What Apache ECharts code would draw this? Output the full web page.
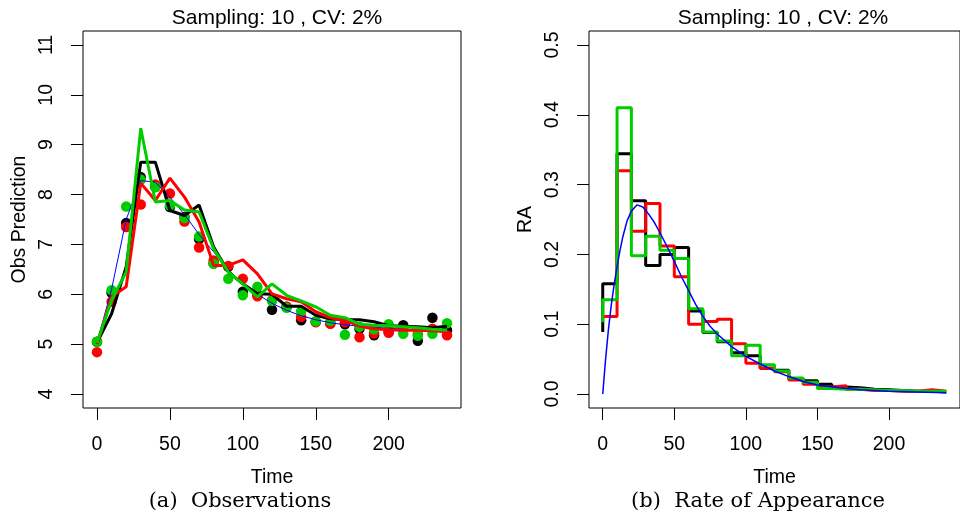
<!DOCTYPE html>
<html>
<head>
<meta charset="utf-8">
<script src="https://cdn.jsdelivr.net/npm/echarts@6/dist/echarts.min.js"></script>
<style>
	html, body { margin: 0; padding: 0; background: #fff; }
	#chart { width: 960px; height: 532px; }
</style>
</head>
<body>
<div id="chart"></div>
<script>
	// sampling times (both panels)
	let times = [0, 10, 20, 30, 40, 50, 60, 70, 80, 90, 100, 110, 120, 130, 140, 150, 160, 170, 180, 190, 200, 210, 220, 230, 240];

	// (a) observations, one array per subject
	let obsBlack = [5.05, 6.03, 7.43, 8.35, 8.15, 7.75, 7.55, 7.11, 6.62, 6.55, 6.05, 6.0, 5.69, 5.75, 5.48, 5.45, 5.42, 5.4, 5.31, 5.18, 5.25, 5.38, 5.07, 5.53, 5.28];
	let obsRed = [4.84, 5.85, 7.35, 7.8, 8.2, 8.02, 7.46, 6.94, 6.68, 6.57, 6.31, 5.96, 5.88, 5.75, 5.55, 5.44, 5.41, 5.44, 5.14, 5.22, 5.23, 5.28, 5.2, 5.31, 5.18];
	let obsGreen = [5.05, 6.08, 7.76, 8.3, 8.15, 7.78, 7.53, 7.16, 6.61, 6.31, 5.98, 6.15, 5.87, 5.73, 5.66, 5.46, 5.47, 5.19, 5.35, 5.3, 5.4, 5.21, 5.17, 5.21, 5.42];

	// (a) predictions
	let predBlack = [5.03, 5.61, 6.55, 8.65, 8.65, 7.68, 7.58, 7.79, 6.95, 6.45, 6.21, 6.01, 6.0, 5.76, 5.76, 5.58, 5.51, 5.49, 5.49, 5.45, 5.37, 5.36, 5.35, 5.33, 5.36];
	let predRed = [5.0, 5.95, 6.15, 8.23, 7.88, 8.33, 7.95, 7.45, 6.58, 6.58, 6.69, 6.41, 6.01, 5.91, 5.85, 5.65, 5.53, 5.48, 5.36, 5.31, 5.29, 5.28, 5.28, 5.27, 5.25];
	let predGreen = [5.03, 5.88, 6.45, 9.33, 7.85, 7.88, 7.69, 7.65, 6.91, 6.45, 6.21, 5.95, 6.21, 5.98, 5.87, 5.75, 5.58, 5.53, 5.4, 5.38, 5.37, 5.35, 5.33, 5.3, 5.28];
	let predTrue = [5.03, 6.1, 7.5, 8.28, 8.25, 7.95, 7.6, 7.2, 6.85, 6.5, 6.2, 6.0, 5.82, 5.68, 5.57, 5.49, 5.43, 5.39, 5.36, 5.34, 5.32, 5.3, 5.29, 5.28, 5.27];

	// (b) rate of appearance, value of each step ending at times[i]
	let raBlack = [0.089, 0.158, 0.344, 0.277, 0.184, 0.2, 0.21, 0.119, 0.088, 0.075, 0.059, 0.055, 0.037, 0.034, 0.022, 0.019, 0.014, 0.01, 0.009, 0.007, 0.006, 0.005, 0.004, 0.004, 0.003];
	let raRed = [0.111, 0.111, 0.32, 0.233, 0.273, 0.212, 0.168, 0.1, 0.104, 0.107, 0.072, 0.044, 0.037, 0.032, 0.02, 0.014, 0.01, 0.012, 0.007, 0.005, 0.005, 0.004, 0.004, 0.006, 0.004];
	let raGreen = [0.103, 0.135, 0.41, 0.198, 0.226, 0.206, 0.194, 0.122, 0.089, 0.076, 0.055, 0.07, 0.042, 0.033, 0.023, 0.017, 0.008, 0.007, 0.007, 0.006, 0.005, 0.005, 0.004, 0.004, 0.004];

	// (b) true curve
	let raTrueTime = [0, 2, 4, 6, 8, 10, 12, 14, 17, 20, 24, 28, 32, 36, 40, 45, 50, 55, 60, 65, 70, 75, 80, 90, 100, 110, 120, 130, 140, 150, 165, 180, 200, 220, 240];
	let raTrue = [0, 0.05, 0.093, 0.128, 0.157, 0.182, 0.205, 0.225, 0.248, 0.262, 0.271, 0.268, 0.258, 0.246, 0.231, 0.211, 0.19, 0.168, 0.148, 0.128, 0.111, 0.097, 0.086, 0.068, 0.054, 0.043, 0.033, 0.025, 0.018, 0.013, 0.009, 0.006, 0.004, 0.003, 0.002];

	let xTicks = [0, 50, 100, 150, 200];
	let obsTicks = [4, 5, 6, 7, 8, 9, 10, 11];
	let raTicks = [0, 0.1, 0.2, 0.3, 0.4, 0.5];

	let titleText = 'Sampling: 10 , CV: 2%';
	let captions = ['(a)  Observations', '(b)  Rate of Appearance'];

	const FONT = 'Liberation Sans';
	const BLACK = '#000000', RED = '#FF0000', GREEN = '#00CD00', BLUE = '#0000FF';

	function pairs(xs, ys) {
		return xs.map((x, i) => [x, ys[i]]);
	}

	function xAxisFor(gridIndex) {
		return {
			type: 'value',
			gridIndex: gridIndex,
			min: -9.6,
			max: 249.6,
			name: 'Time',
			nameLocation: 'middle',
			nameGap: 60,
			nameTextStyle: { color: '#000', fontFamily: FONT, fontSize: 19.5 },
			axisLine: { show: false, onZero: false },
			splitLine: { show: false },
			axisTick: {
				show: true,
				inside: false,
				length: 12,
				customValues: xTicks,
				lineStyle: { color: '#000', width: 1 }
			},
			axisLabel: {
				customValues: xTicks,
				color: '#000',
				fontFamily: FONT,
				fontSize: 19.5,
				margin: 27
			}
		};
	}

	function yAxisFor(gridIndex, min, max, ticks, name, fmt) {
		return {
			type: 'value',
			gridIndex: gridIndex,
			min: min,
			max: max,
			name: name,
			nameLocation: 'middle',
			nameGap: 53,
			nameTextStyle: { color: '#000', fontFamily: FONT, fontSize: 19.5 },
			axisLine: { show: false, onZero: false },
			splitLine: { show: false },
			axisTick: {
				show: true,
				inside: false,
				length: 12,
				customValues: ticks,
				lineStyle: { color: '#000', width: 1 }
			},
			axisLabel: {
				customValues: ticks,
				rotate: 90,
				color: '#000',
				fontFamily: FONT,
				fontSize: 19.5,
				margin: 26,
				formatter: fmt
			}
		};
	}

	function scatter(data, color) {
		return {
			type: 'scatter',
			xAxisIndex: 0,
			yAxisIndex: 0,
			symbol: 'circle',
			symbolSize: 10.5,
			itemStyle: { color: color, opacity: 1 },
			data: pairs(times, data)
		};
	}

	function line(xi, xs, data, color, width, step) {
		return {
			type: 'line',
			xAxisIndex: xi,
			yAxisIndex: xi,
			showSymbol: false,
			step: step || false,
			lineStyle: { color: color, width: width },
			data: pairs(xs, data)
		};
	}

	let series = [
		line(0, times, predTrue, BLUE, 1),
		scatter(obsBlack, BLACK),
		line(0, times, predBlack, BLACK, 3),
		scatter(obsRed, RED),
		line(0, times, predRed, RED, 3),
		scatter(obsGreen, GREEN),
		line(0, times, predGreen, GREEN, 3),

		line(1, times, raBlack, BLACK, 3, 'start'),
		line(1, times, raRed, RED, 3, 'start'),
		line(1, times, raGreen, GREEN, 3, 'start'),
		line(1, raTrueTime, raTrue, BLUE, 1.5)
	];

	let option = {
		animation: false,
		backgroundColor: '#fff',
		title: [{
			text: titleText,
			left: 272,
			top: 3,
			textAlign: 'center',
			textStyle: { color: '#000', fontFamily: FONT, fontSize: 21, fontWeight: 'normal' }
		}, {
			text: titleText,
			left: 778,
			top: 3,
			textAlign: 'center',
			textStyle: { color: '#000', fontFamily: FONT, fontSize: 21, fontWeight: 'normal' }
		}],
		grid: [{
			left: 83, top: 31, width: 378, height: 377,
			show: true, borderColor: '#000', borderWidth: 1, backgroundColor: 'transparent'
		}, {
			left: 589, top: 31, width: 378, height: 377,
			show: true, borderColor: '#000', borderWidth: 1, backgroundColor: 'transparent'
		}],
		xAxis: [xAxisFor(0), xAxisFor(1)],
		yAxis: [
			yAxisFor(0, 3.72, 11.28, obsTicks, 'Obs Prediction', v => String(v)),
			yAxisFor(1, -0.02, 0.52, raTicks, 'RA', v => v.toFixed(1))
		],
		graphic: [{
			type: 'text',
			x: 240, y: 502,
			style: {
				text: captions[0], fill: '#000', font: '21px "DejaVu Serif"',
				align: 'center', verticalAlign: 'middle'
			}
		}, {
			type: 'text',
			x: 758, y: 502,
			style: {
				text: captions[1], fill: '#000', font: '21px "DejaVu Serif"',
				align: 'center', verticalAlign: 'middle'
			}
		}],
		series: series
	};

	let chart = echarts.init(document.getElementById('chart'), null, { renderer: 'canvas' });
	chart.setOption(option);
	window.addEventListener('resize', function() {
		chart.resize();
	});
</script>
</body>
</html>
